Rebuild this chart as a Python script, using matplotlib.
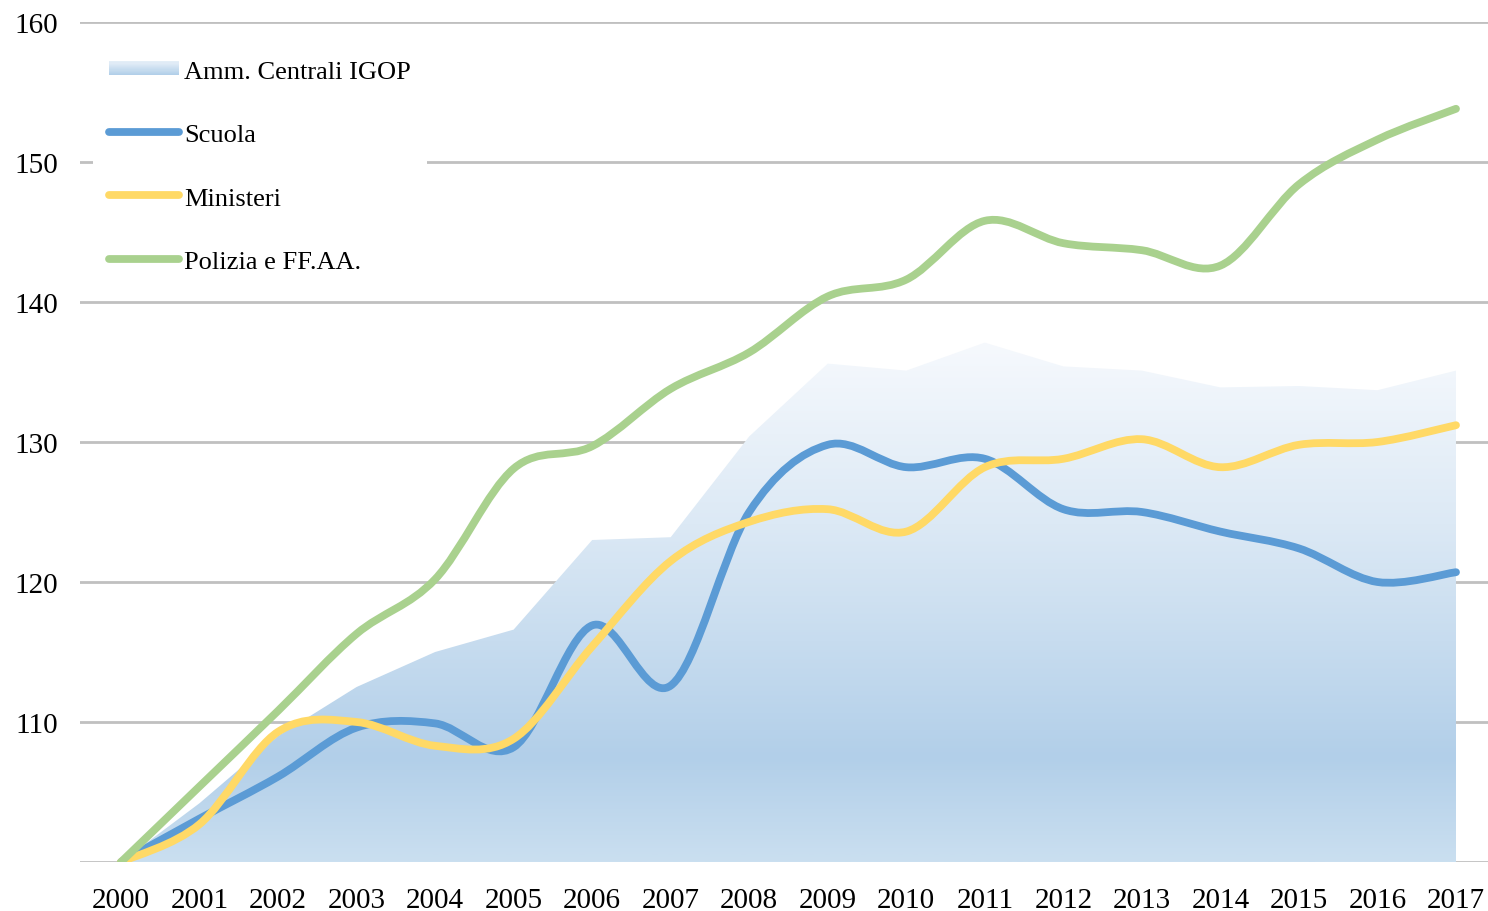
import numpy as np
import matplotlib
matplotlib.use("Agg")
import matplotlib.pyplot as plt
from matplotlib.path import Path
from matplotlib.patches import PathPatch, Rectangle
from matplotlib.lines import Line2D
from matplotlib.legend_handler import HandlerBase
from matplotlib.colors import LinearSegmentedColormap

years = list(range(2000, 2018))
igop = [100, 104.2, 109.0, 112.5, 115.0, 116.6, 123.0, 123.2, 130.4, 135.6,
        135.1, 137.1, 135.4, 135.1, 133.9, 134.0, 133.7, 135.1]
scuola = [100, 103.1, 106.1, 109.6, 109.9, 108.2, 116.9, 112.6, 125.0, 129.8,
          128.2, 128.8, 125.2, 125.0, 123.6, 122.4, 120.0, 120.7]
ministeri = [100, 102.7, 109.3, 110.0, 108.3, 108.8, 115.4, 121.5, 124.3, 125.2,
             123.6, 128.2, 128.8, 130.2, 128.2, 129.8, 130.0, 131.2]
polizia = [100, 105.4, 110.8, 116.3, 120.2, 128.1, 129.7, 133.8, 136.4, 140.4,
           141.6, 145.8, 144.2, 143.7, 142.6, 148.4, 151.6, 153.8]
series_names = ["Amm. Centrali IGOP", "Scuola", "Ministeri", "Polizia e FF.AA."]
colors = {"Scuola": "#5b9bd5", "Ministeri": "#ffd966", "Polizia e FF.AA.": "#a9d18e"}

plt.rcParams['font.family'] = ['Liberation Serif', 'DejaVu Serif']

fig = plt.figure(figsize=(14.88, 9.12), dpi=100)
ax = fig.add_axes([80/1488, 49/912, 1408/1488, 840/912])

grad_cmap = LinearSegmentedColormap.from_list(
    "g", [(0, "#f6f9fd"), (0.35, "#dce9f5"), (0.8, "#b2cfe9"), (1.0, "#cadff0")])

# area with vertical gradient
xs = np.array(years, float)
verts = [(xs[0], 100)] + list(zip(xs, igop)) + [(xs[-1], 100), (xs[0], 100)]
codes = [Path.MOVETO] + [Path.LINETO] * (len(verts) - 2) + [Path.CLOSEPOLY]
poly = Path(verts, codes)
patch = PathPatch(poly, facecolor="none", edgecolor="none")
ax.add_patch(patch)
ytop = max(igop)
grad = np.linspace(0, 1, 256).reshape(-1, 1)
im = ax.imshow(grad, cmap=grad_cmap, aspect="auto",
               extent=[xs[0], xs[-1], 100, ytop], origin="upper",
               zorder=1, interpolation="bilinear")
im.set_clip_path(patch)
ax.set_xlim(2000 - 41/78.5, 2017 + 32/78.5)
ax.set_ylim(100, 160)


def smooth_path(x, y):
    pts = np.column_stack([x, y]).astype(float)
    n = len(pts)
    v = [tuple(pts[0])]
    cds = [Path.MOVETO]
    for i in range(n - 1):
        p0 = pts[i - 1] if i > 0 else pts[i]
        p1 = pts[i]
        p2 = pts[i + 1]
        p3 = pts[i + 2] if i + 2 < n else pts[i + 1]
        c1 = p1 + (p2 - p0) / 6.0
        c2 = p2 - (p3 - p1) / 6.0
        v += [tuple(c1), tuple(c2), tuple(p2)]
        cds += [Path.CURVE4] * 3
    return Path(v, cds)


LW = 5.6
for name, vals, z in [("Scuola", scuola, 3), ("Ministeri", ministeri, 4),
                      ("Polizia e FF.AA.", polizia, 5)]:
    pp = PathPatch(smooth_path(xs, vals), facecolor="none", edgecolor=colors[name],
                   linewidth=LW, capstyle="round", joinstyle="round", zorder=z)
    ax.add_patch(pp)

ax.set_yticks([110, 120, 130, 140, 150, 160])
ax.set_xticks(years)
ax.set_xticklabels([str(y) for y in years])
ax.yaxis.grid(True, color="#c0c0c0", linewidth=2)
ax.set_axisbelow(True)
ax.axhline(100, color="#c0c0c0", linewidth=2, zorder=0.5)
for s in ax.spines.values():
    s.set_visible(False)
ax.tick_params(length=0, labelsize=21, colors="black")
ax.tick_params(axis="y", pad=16)
ax.tick_params(axis="x", pad=18)


class GradHandler(HandlerBase):
    def create_artists(self, legend, orig_handle, xdescent, ydescent, width, height,
                       fontsize, trans):
        arts = []
        n = 12
        h = height * 0.75
        y0 = -ydescent + (height - h) / 2
        for k in range(n):
            c = grad_cmap(0.25 + 0.55 * k / (n - 1))
            r = Rectangle((-xdescent, y0 + h - (k + 1) * h / n), width, h / n,
                          facecolor=c, edgecolor="none", transform=trans)
            arts.append(r)
        return arts


handles = [Rectangle((0, 0), 1, 1)] + [
    Line2D([], [], color=colors[n], linewidth=LW, solid_capstyle="round")
    for n in series_names[1:]]
leg = ax.legend(handles, series_names, loc="upper left",
                bbox_to_anchor=(0/1408, 1 - 8/840), frameon=True,
                facecolor="white", edgecolor="none", framealpha=1, fancybox=False,
                fontsize=19, handlelength=2.65, handletextpad=0.2, labelspacing=1.52,
                borderpad=0.6, handler_map={Rectangle: GradHandler()})
leg.set_zorder(10)

fig.savefig("out.png", dpi=100)
